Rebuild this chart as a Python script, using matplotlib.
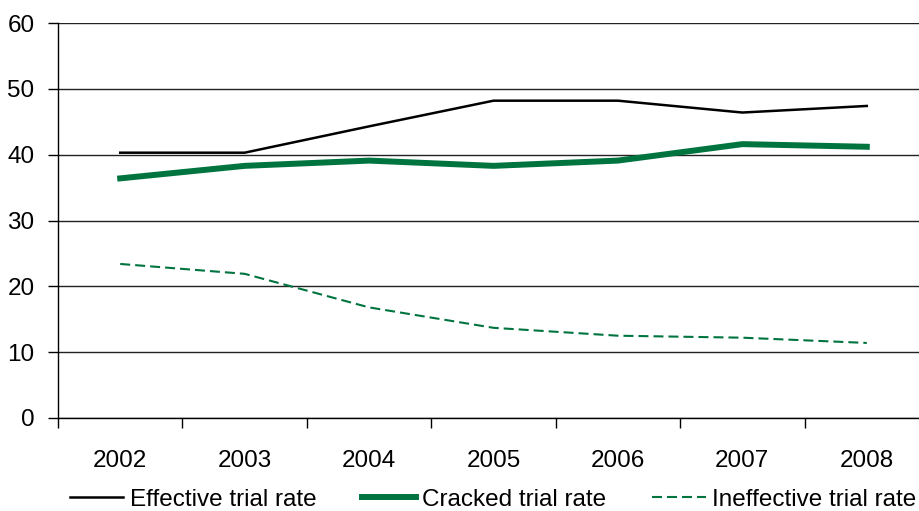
import numpy as np
import matplotlib.pyplot as plt

plt.rcParams['font.family'] = ['Liberation Sans', 'DejaVu Sans']

years = ['2002', '2003', '2004', '2005', '2006', '2007', '2008']
effective = [40.3, 40.3, 44.3, 48.2, 48.2, 46.4, 47.4]
cracked = [36.4, 38.3, 39.1, 38.3, 39.1, 41.6, 41.2]
ineffective = [23.4, 21.9, 16.8, 13.7, 12.5, 12.2, 11.4]

green = '#00743F'
fs = 17.5

fig = plt.figure(figsize=(9.19, 5.11), dpi=100)
# axes run a little past the right edge, like the source chart
ax = fig.add_axes([58 / 919, 1 - 418 / 511, 871 / 919, 395 / 511])

x = np.arange(len(years))
ax.plot(x, effective, color='black', lw=1.8, label='Effective trial rate')
ax.plot(x, cracked, color=green, lw=4.3, label='Cracked trial rate')
ax.plot(x, ineffective, color=green, lw=1.5, ls=(0, (4.8, 2.4)),
        label='Ineffective trial rate')

ax.set_xlim(-0.5, 6.5)
ax.set_ylim(0, 60)
ax.set_yticks(range(0, 61, 10))
ax.yaxis.grid(True, color='#222222', lw=1.0)
ax.set_axisbelow(True)

ax.set_xticks(x)
ax.set_xticklabels(years)
ax.set_xticks(np.arange(-0.5, 7, 1), minor=True)
ax.tick_params(axis='x', which='major', length=0, pad=23, labelsize=fs)
ax.tick_params(axis='x', which='minor', length=7, width=1, color='black')
ax.tick_params(axis='y', length=7, width=1, pad=10, labelsize=fs)

for s in ['top', 'right']:
    ax.spines[s].set_visible(False)
ax.spines['left'].set_linewidth(1.0)
ax.spines['bottom'].set_linewidth(1.0)

fig.legend(loc='center', bbox_to_anchor=(493 / 919, 1 - 500 / 511), ncol=3,
           frameon=False, fontsize=fs, handlelength=2.2, handletextpad=0.25,
           columnspacing=1.9, borderaxespad=0)

fig.savefig('out.png', dpi=100)
